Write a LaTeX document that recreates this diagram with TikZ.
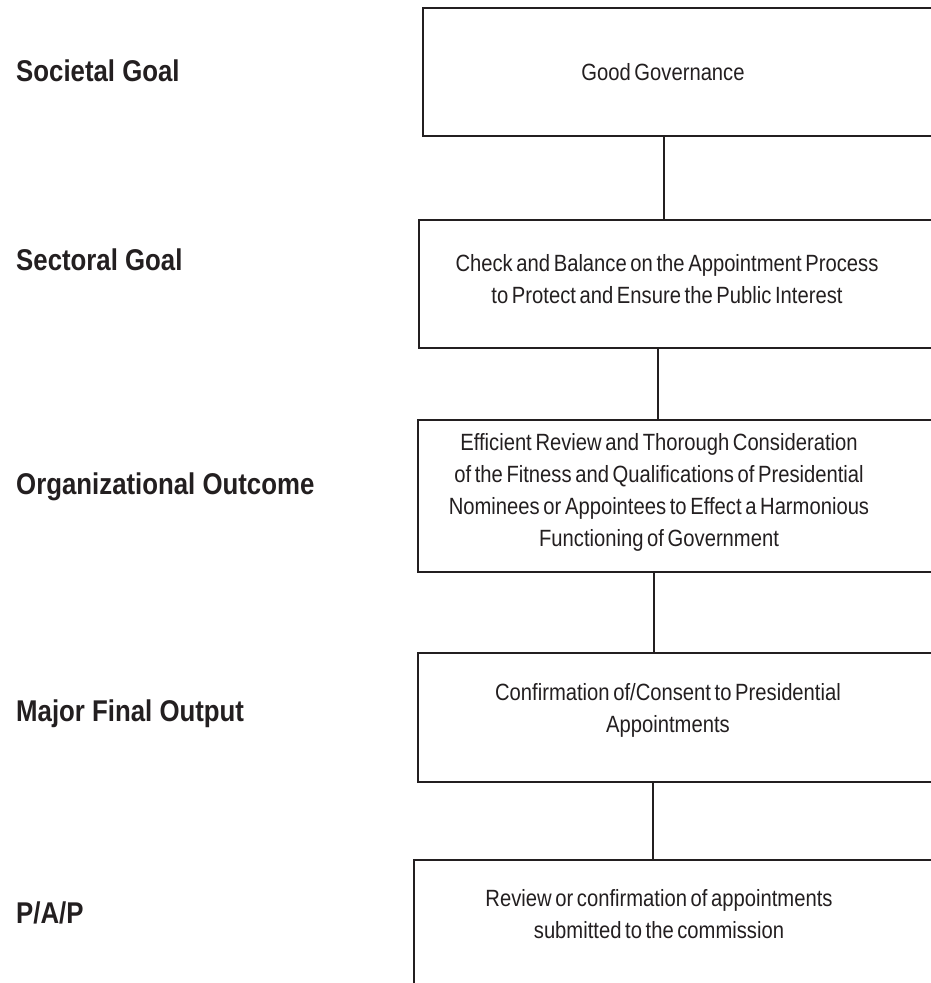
\documentclass[tikz,border=0pt]{standalone}
\usepackage{fontspec}
\setmainfont{Liberation Sans}[FakeStretch=0.86, WordSpace=0.65]
\newfontfamily\lblfont{Liberation Sans}[FakeStretch=0.86]
\definecolor{ink}{HTML}{231F20}
\tikzset{
  box/.style={draw=ink, line width=2pt, rectangle, anchor=north west, inner sep=0pt},
  boxtext/.style={text=ink, align=center, inner sep=0pt, font=\fontsize{23.5}{32}\selectfont},
  lbl/.style={text=ink, anchor=base west, inner sep=0pt, font=\lblfont\bfseries\fontsize{30}{36}\selectfont},
  conn/.style={draw=ink, line width=2pt}
}
\begin{document}
\begin{tikzpicture}[x=1pt,y=-1pt]
\useasboundingbox (0,0) rectangle (931,983);
\clip (0,0) rectangle (931,983);
\fill[white] (0,0) rectangle (931,983);
% boxes
\node[box, minimum width=538pt, minimum height=128pt] (b1) at (422,7) {};
\node[box, minimum width=542pt, minimum height=128pt] (b2) at (418,219) {};
\node[box, minimum width=543pt, minimum height=152pt] (b3) at (417,419) {};
\node[box, minimum width=543pt, minimum height=129pt] (b4) at (417,652) {};
\node[box, minimum width=547pt, minimum height=160pt] (b5) at (413,859) {};
% box texts
\node[boxtext] (t1) at (663,72) {Good Governance};
\node[boxtext] (t2) at (667,279) {Check and Balance on the Appointment Process\\to Protect and Ensure the Public Interest};
\node[boxtext] (t3) at (659,492) {Efficient Review and Thorough Consideration\\of the Fitness and Qualifications of Presidential\\Nominees or Appointees to Effect a Harmonious\\Functioning of Government};
\node[boxtext] (t4) at (668,710) {Confirmation of/Consent to Presidential\\Appointments};
\node[boxtext] (t5) at (659,914) {Review or confirmation of appointments\\submitted to the commission};
% labels
\node[lbl] (l1) at (16,81) {Societal Goal};
\node[lbl] (l2) at (16,270) {Sectoral Goal};
\node[lbl] (l3) at (16,494) {Organizational Outcome};
\node[lbl] (l4) at (16,721) {Major Final Output};
\node[lbl] (l5) at (16,923) {P/A/P};
% connectors
\draw[conn] ([xshift=242pt]b1.south west) -- ([xshift=246pt]b2.north west);
\draw[conn] ([xshift=240pt]b2.south west) -- ([xshift=241pt]b3.north west);
\draw[conn] ([xshift=237pt]b3.south west) -- ([xshift=237pt]b4.north west);
\draw[conn] ([xshift=236pt]b4.south west) -- ([xshift=240pt]b5.north west);
\end{tikzpicture}
\end{document}
